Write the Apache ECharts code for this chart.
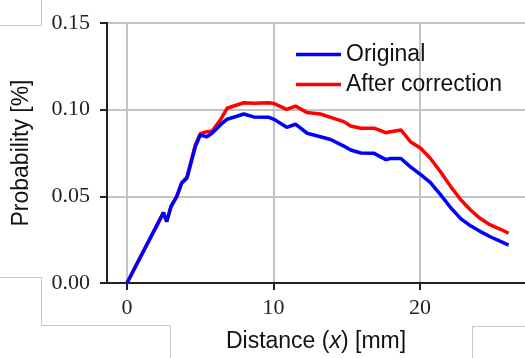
<!DOCTYPE html>
<html lang="en">

<head>
    <meta charset="UTF-8">
    <title>Probability vs distance</title>
    <script src="https://cdn.jsdelivr.net/npm/echarts@6.0.0/dist/echarts.min.js"></script>
    <style>
        html, body { margin: 0; padding: 0; background: #fff; }
    </style>
</head>

<body>
    <div id="main" style="width: 525px; height: 358px;"></div>
    <script>
        // distance along the profile [mm]
        var distance = [0, 2.49, 2.71, 3.0, 3.4, 3.74, 4.09, 4.66, 5.0, 5.46, 5.8, 6.37, 6.83, 7.5, 7.97, 8.65,
            9.68, 10.05, 10.9, 11.5, 12.3, 13.2, 13.9, 14.8, 15.27, 15.96, 16.87, 17.67, 18.0, 18.7, 19.35,
            20.05, 20.7, 21.4, 22.1, 22.8, 23.45, 24.1, 24.8, 25.5, 26.05];
        var original = [0, 0.0406, 0.0354, 0.044, 0.050, 0.0577, 0.0604, 0.0786, 0.0854, 0.0844, 0.0864, 0.0912,
            0.0945, 0.0962, 0.0975, 0.0958, 0.0956, 0.0944, 0.0898, 0.0916, 0.0864, 0.0844, 0.0828, 0.079,
            0.0767, 0.0750, 0.0748, 0.0712, 0.0718, 0.0718, 0.067, 0.0625, 0.058, 0.051, 0.0434, 0.037,
            0.033, 0.0298, 0.0267, 0.024, 0.0219];
        var corrected = [0, 0.0406, 0.0354, 0.044, 0.050, 0.058, 0.061, 0.0795, 0.0862, 0.0873, 0.0875, 0.094,
            0.1008, 0.1027, 0.104, 0.1037, 0.104, 0.1035, 0.1002, 0.1021, 0.0983, 0.0975, 0.0956, 0.0931,
            0.0906, 0.0893, 0.0893, 0.0867, 0.0873, 0.0883, 0.0815, 0.0777, 0.072, 0.0642, 0.0556, 0.0479,
            0.0421, 0.0373, 0.0335, 0.031, 0.0287];
        var xTicks = [0, 10, 20];

        function pairs(xs, ys) {
            return xs.map(function (x, i) { return [x, ys[i]]; });
        }

        var chartDom = document.getElementById('main');
        var myChart = echarts.init(chartDom);
        var axisColor = '#222';
        var gridColor = '#c4c4c4';
        var serif = '"Liberation Serif", "Times New Roman", serif';
        var sans = '"Liberation Sans", Arial, sans-serif';

        var option = {
            animation: false,
            grid: { left: 107, top: 23, right: 0, bottom: 75, containLabel: false },
            legend: {
                data: ['Original', 'After correction'],
                orient: 'vertical',
                left: 291,
                top: 38,
                icon: 'rect',
                itemWidth: 45,
                itemHeight: 3.5,
                itemGap: 7,
                textStyle: { fontFamily: sans, fontSize: 23, color: '#111', lineHeight: 23 }
            },
            xAxis: [{
                type: 'value',
                min: -1.365,
                max: 27.17,
                name: 'Distance ({i|x}) [mm]',
                nameLocation: 'middle',
                nameGap: 47,
                nameTextStyle: {
                    fontFamily: sans, fontSize: 23, color: '#111',
                    rich: { i: { fontFamily: sans, fontSize: 23, fontStyle: 'italic', color: '#111' } }
                },
                axisLine: { onZero: false, lineStyle: { color: axisColor, width: 2 } },
                axisTick: { customValues: xTicks, length: 7, lineStyle: { color: axisColor, width: 2 } },
                axisLabel: { customValues: xTicks, margin: 14, fontFamily: serif, fontSize: 22, color: '#222' },
                splitLine: { show: true, lineStyle: { color: gridColor, width: 2 } }
            }, {
                type: 'value',
                position: 'top',
                min: -1.365,
                max: 27.17,
                axisLine: { show: true, lineStyle: { color: axisColor, width: 2 } },
                axisTick: { show: false },
                axisLabel: { show: false },
                splitLine: { show: false }
            }],
            yAxis: {
                type: 'value',
                min: 0,
                max: 0.15,
                interval: 0.05,
                name: 'Probability [%]',
                nameLocation: 'middle',
                nameGap: 74,
                nameTextStyle: { fontFamily: sans, fontSize: 23, color: '#111' },
                axisLine: { show: true, onZero: false, lineStyle: { color: axisColor, width: 2 } },
                axisTick: { show: true, length: 7, lineStyle: { color: axisColor, width: 2 } },
                axisLabel: {
                    margin: 17, fontFamily: serif, fontSize: 22, color: '#222',
                    formatter: function (v) { return v.toFixed(2); }
                },
                splitLine: { show: true, lineStyle: { color: gridColor, width: 2 } }
            },
            series: [{
                name: 'After correction',
                type: 'line',
                data: pairs(distance, corrected),
                symbol: 'none',
                smooth: false,
                lineStyle: { color: '#ff0000', width: 3.5 },
                itemStyle: { color: '#ff0000' }
            }, {
                name: 'Original',
                type: 'line',
                data: pairs(distance, original),
                symbol: 'none',
                smooth: false,
                lineStyle: { color: '#0000ff', width: 3.5 },
                itemStyle: { color: '#0000ff' }
            }],
            // faint frame lines from the slide the chart was cut from
            graphic: [{
                type: 'polyline', silent: true,
                shape: { points: [[0, 25.5], [41.5, 25.5], [41.5, 0]] },
                style: { stroke: '#c8c8c8', lineWidth: 1, fill: null }
            }, {
                type: 'polyline', silent: true,
                shape: { points: [[0, 277.5], [41.5, 277.5], [41.5, 325.5], [170.5, 325.5], [170.5, 358]] },
                style: { stroke: '#c8c8c8', lineWidth: 1, fill: null }
            }, {
                type: 'polyline', silent: true,
                shape: { points: [[472.5, 358], [472.5, 326.5], [525, 326.5]] },
                style: { stroke: '#c8c8c8', lineWidth: 1, fill: null }
            }]
        };

        myChart.setOption(option);
        window.addEventListener('resize', function () {
            myChart.resize();
        });
    </script>
</body>

</html>
